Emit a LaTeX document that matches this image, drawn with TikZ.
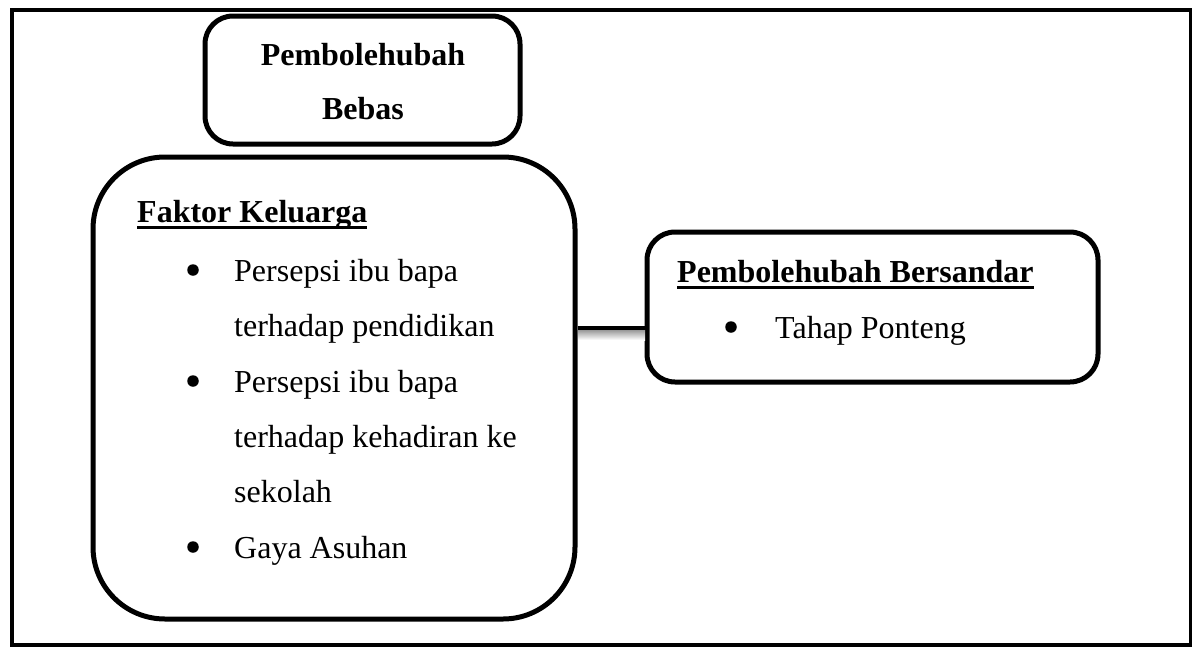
\documentclass[tikz,border=0pt]{standalone}
\usepackage{fontspec}
\setmainfont{Liberation Serif}
\usetikzlibrary{positioning}
\newcommand{\ulbf}[1]{\sbox0{\bfseries #1}\rlap{\rule[-7pt]{\wd0}{3.5pt}}\usebox0}

\begin{document}
\begin{tikzpicture}[x=1pt, y=-1pt, font=\fontsize{32}{55}\selectfont,
    varbox/.style={draw, line width=5pt, rounded corners=#1, inner sep=0pt},
    txt/.style={anchor=base west, inner sep=0pt},
    hd/.style={anchor=base, inner sep=0pt, font=\fontsize{32}{55}\selectfont\bfseries},
    blt/.style={circle, fill, inner sep=0pt, minimum size=11.5pt}]
	\useasboundingbox (0,0) rectangle (1192,646);
	\draw[line width=4pt] (12,10) rectangle (1191,645);
	% kotak
	\node[varbox=28pt, minimum width=315pt, minimum height=128pt] (bebas) at (362.5,80) {};
	\node[varbox=72pt, minimum width=482pt, minimum height=462pt] (keluarga) at (334,388) {};
	\node[varbox=28pt, minimum width=451pt, minimum height=150pt] (sandar) at (872.5,307) {};
	% teks
	\node[hd] (pb1) at (363,65) {Pembolehubah};
	\node[hd] (pb2) at (363,119) {Bebas};
	\node[txt] (fk) at (137,222) {\ulbf{Faktor Keluarga}};
	\node[blt] (b1) at (193,270) {};
	\node[txt] (k1) at (234,281) {Persepsi ibu bapa};
	\node[txt] (k2) at (234,336) {terhadap pendidikan};
	\node[blt] (b2) at (193,381) {};
	\node[txt] (k3) at (234,392) {Persepsi ibu bapa};
	\node[txt] (k4) at (234,447) {terhadap kehadiran ke};
	\node[txt] (k5) at (234,502) {sekolah};
	\node[blt] (b3) at (193,547) {};
	\node[txt] (k6) at (234,558) {Gaya Asuhan};
	\node[txt] (pbs) at (677,282) {\ulbf{Pembolehubah Bersandar}};
	\node[blt] (b4) at (731,327) {};
	\node[txt] (tp) at (775,338) {Tahap Ponteng};
	% sambungan
	\coordinate (j) at (0,328);
	\shade[top color=black!40, bottom color=white] (578,330) rectangle (645,340);
	\draw[line width=4pt] (keluarga.east |- j) -- (sandar.west |- j);
\end{tikzpicture}
\end{document}
